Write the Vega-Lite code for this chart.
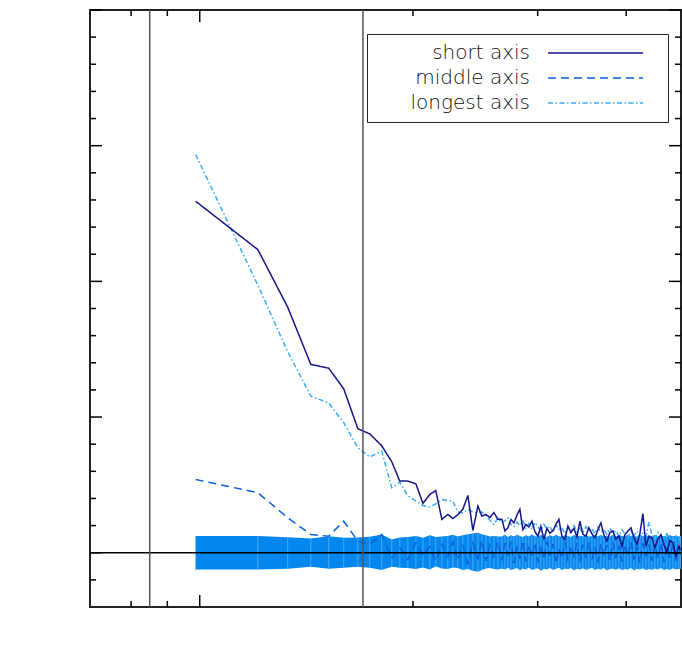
{
  "$schema": "https://vega.github.io/schema/vega-lite/v6.json",
  "width": 591,
  "height": 597,
  "autosize": {"type": "none"},
  "padding": {"left": 90, "top": 10, "right": 1, "bottom": 58},
  "background": "white",
  "config": {
    "font": "DejaVu Sans",
    "view": {"stroke": "#222", "strokeWidth": 2},
    "axis": {"grid": false, "domain": false, "ticks": false, "labelFont": "DejaVu Sans", "labelFontSize": 19, "labelFontWeight": 200, "labelColor": "#111", "titleFont": "DejaVu Sans", "titleFontSize": 18, "titleFontWeight": 200, "titleColor": "#111"},
    "legend": {
      "orient": "none", "legendX": 277, "legendY": 24, "title": null,
      "strokeColor": "#222", "padding": 9, "rowPadding": 5,
      "labelAlign": "right", "labelOffset": -28, "labelFont": "DejaVu Sans", "labelFontSize": 20, "labelFontWeight": 200, "labelColor": "#111", "labelLimit": 300,
      "symbolType": "M0,0H95M108,0", "symbolSize": 4, "symbolStrokeWidth": 1.5, "symbolOffset": 162
    }
  },
  "datasets": {
    "d": [
      {"R": 9.87, "short": 0.6295, "middle": 0.5270, "longest": 0.6467, "lo": 0.4938, "hi": 0.5062},
      {"R": 12.08, "short": 0.6117, "middle": 0.5221, "longest": 0.5986, "lo": 0.4938, "hi": 0.5062},
      {"R": 13.31, "short": 0.5905, "middle": 0.5129, "longest": 0.5741, "lo": 0.4941, "hi": 0.5057},
      {"R": 14.35, "short": 0.5694, "middle": 0.5067, "longest": 0.5577, "lo": 0.4948, "hi": 0.5052},
      {"R": 15.21, "short": 0.5680, "middle": 0.5061, "longest": 0.5552, "lo": 0.4941, "hi": 0.5061},
      {"R": 15.97, "short": 0.5604, "middle": 0.5116, "longest": 0.5479, "lo": 0.4945, "hi": 0.5055},
      {"R": 16.72, "short": 0.5457, "middle": 0.5043, "longest": 0.5387, "lo": 0.4948, "hi": 0.5056},
      {"R": 17.38, "short": 0.5438, "middle": 0.5031, "longest": 0.5353, "lo": 0.4945, "hi": 0.5059},
      {"R": 18.07, "short": 0.5394, "middle": 0.5067, "longest": 0.5374, "lo": 0.4936, "hi": 0.5067},
      {"R": 18.67, "short": 0.5335, "middle": 0.4982, "longest": 0.5239, "lo": 0.4948, "hi": 0.5049},
      {"R": 19.16, "short": 0.5264, "middle": 0.5018, "longest": 0.5260, "lo": 0.4945, "hi": 0.5056},
      {"R": 19.67, "short": 0.5264, "middle": 0.4975, "longest": 0.5210, "lo": 0.4944, "hi": 0.5058},
      {"R": 20.19, "short": 0.5254, "middle": 0.5037, "longest": 0.5190, "lo": 0.4940, "hi": 0.5062},
      {"R": 20.66, "short": 0.5182, "middle": 0.4990, "longest": 0.5174, "lo": 0.4946, "hi": 0.5055},
      {"R": 21.13, "short": 0.5215, "middle": 0.5022, "longest": 0.5169, "lo": 0.4938, "hi": 0.5064},
      {"R": 21.54, "short": 0.5229, "middle": 0.4968, "longest": 0.5180, "lo": 0.4950, "hi": 0.5058},
      {"R": 21.97, "short": 0.5123, "middle": 0.5030, "longest": 0.5196, "lo": 0.4942, "hi": 0.5060},
      {"R": 22.40, "short": 0.5141, "middle": 0.4985, "longest": 0.5192, "lo": 0.4940, "hi": 0.5062},
      {"R": 22.77, "short": 0.5126, "middle": 0.5040, "longest": 0.5190, "lo": 0.4946, "hi": 0.5066},
      {"R": 23.14, "short": 0.5140, "middle": 0.4972, "longest": 0.5150, "lo": 0.4944, "hi": 0.5060},
      {"R": 23.52, "short": 0.5160, "middle": 0.5025, "longest": 0.5147, "lo": 0.4936, "hi": 0.5064},
      {"R": 23.91, "short": 0.5211, "middle": 0.4960, "longest": 0.5160, "lo": 0.4940, "hi": 0.5068},
      {"R": 24.30, "short": 0.5082, "middle": 0.5035, "longest": 0.5150, "lo": 0.4934, "hi": 0.5071},
      {"R": 24.70, "short": 0.5172, "middle": 0.4978, "longest": 0.5147, "lo": 0.4930, "hi": 0.5074},
      {"R": 25.02, "short": 0.5135, "middle": 0.5045, "longest": 0.5150, "lo": 0.4936, "hi": 0.5068},
      {"R": 25.35, "short": 0.5141, "middle": 0.4970, "longest": 0.5138, "lo": 0.4942, "hi": 0.5064},
      {"R": 25.68, "short": 0.5130, "middle": 0.5028, "longest": 0.5120, "lo": 0.4944, "hi": 0.5060},
      {"R": 26.02, "short": 0.5148, "middle": 0.4985, "longest": 0.5104, "lo": 0.4940, "hi": 0.5062},
      {"R": 26.36, "short": 0.5123, "middle": 0.5040, "longest": 0.5128, "lo": 0.4938, "hi": 0.5060},
      {"R": 26.70, "short": 0.5123, "middle": 0.4972, "longest": 0.5110, "lo": 0.4942, "hi": 0.5060},
      {"R": 26.97, "short": 0.5080, "middle": 0.5035, "longest": 0.5118, "lo": 0.4938, "hi": 0.5066},
      {"R": 27.23, "short": 0.5092, "middle": 0.4990, "longest": 0.5129, "lo": 0.4945, "hi": 0.5058},
      {"R": 27.50, "short": 0.5123, "middle": 0.5040, "longest": 0.5105, "lo": 0.4936, "hi": 0.5064},
      {"R": 27.77, "short": 0.5110, "middle": 0.4962, "longest": 0.5095, "lo": 0.4940, "hi": 0.5060},
      {"R": 28.04, "short": 0.5138, "middle": 0.5022, "longest": 0.5112, "lo": 0.4944, "hi": 0.5066},
      {"R": 28.31, "short": 0.5160, "middle": 0.4978, "longest": 0.5100, "lo": 0.4935, "hi": 0.5062},
      {"R": 28.59, "short": 0.5085, "middle": 0.5045, "longest": 0.5118, "lo": 0.4942, "hi": 0.5058},
      {"R": 28.87, "short": 0.5104, "middle": 0.4968, "longest": 0.5090, "lo": 0.4938, "hi": 0.5064},
      {"R": 29.15, "short": 0.5095, "middle": 0.5030, "longest": 0.5108, "lo": 0.4946, "hi": 0.5060},
      {"R": 29.44, "short": 0.5116, "middle": 0.4985, "longest": 0.5085, "lo": 0.4936, "hi": 0.5067},
      {"R": 29.73, "short": 0.5078, "middle": 0.5038, "longest": 0.5112, "lo": 0.4940, "hi": 0.5061},
      {"R": 30.02, "short": 0.5061, "middle": 0.4965, "longest": 0.5095, "lo": 0.4943, "hi": 0.5059},
      {"R": 30.31, "short": 0.5098, "middle": 0.5028, "longest": 0.5080, "lo": 0.4934, "hi": 0.5065},
      {"R": 30.61, "short": 0.5049, "middle": 0.4975, "longest": 0.5105, "lo": 0.4941, "hi": 0.5062},
      {"R": 30.91, "short": 0.5090, "middle": 0.5042, "longest": 0.5088, "lo": 0.4938, "hi": 0.5058},
      {"R": 31.21, "short": 0.5072, "middle": 0.4990, "longest": 0.5098, "lo": 0.4944, "hi": 0.5064},
      {"R": 31.52, "short": 0.5080, "middle": 0.5032, "longest": 0.5075, "lo": 0.4937, "hi": 0.5060},
      {"R": 31.83, "short": 0.5105, "middle": 0.4960, "longest": 0.5102, "lo": 0.4940, "hi": 0.5066},
      {"R": 32.14, "short": 0.5123, "middle": 0.5015, "longest": 0.5085, "lo": 0.4945, "hi": 0.5061},
      {"R": 32.46, "short": 0.5060, "middle": 0.4978, "longest": 0.5092, "lo": 0.4936, "hi": 0.5059},
      {"R": 32.77, "short": 0.5049, "middle": 0.5040, "longest": 0.5070, "lo": 0.4942, "hi": 0.5064},
      {"R": 33.10, "short": 0.5098, "middle": 0.4970, "longest": 0.5095, "lo": 0.4939, "hi": 0.5062},
      {"R": 33.42, "short": 0.5074, "middle": 0.5025, "longest": 0.5082, "lo": 0.4944, "hi": 0.5058},
      {"R": 33.75, "short": 0.5090, "middle": 0.4988, "longest": 0.5100, "lo": 0.4935, "hi": 0.5065},
      {"R": 34.08, "short": 0.5058, "middle": 0.5036, "longest": 0.5078, "lo": 0.4941, "hi": 0.5061},
      {"R": 34.41, "short": 0.5116, "middle": 0.4966, "longest": 0.5090, "lo": 0.4938, "hi": 0.5063},
      {"R": 34.75, "short": 0.5068, "middle": 0.5030, "longest": 0.5072, "lo": 0.4943, "hi": 0.5060},
      {"R": 35.09, "short": 0.5061, "middle": 0.4982, "longest": 0.5096, "lo": 0.4937, "hi": 0.5066},
      {"R": 35.43, "short": 0.5092, "middle": 0.5040, "longest": 0.5080, "lo": 0.4940, "hi": 0.5059},
      {"R": 35.78, "short": 0.5070, "middle": 0.4975, "longest": 0.5088, "lo": 0.4945, "hi": 0.5062},
      {"R": 36.13, "short": 0.5055, "middle": 0.5020, "longest": 0.5070, "lo": 0.4936, "hi": 0.5064},
      {"R": 36.49, "short": 0.5085, "middle": 0.4965, "longest": 0.5094, "lo": 0.4941, "hi": 0.5060},
      {"R": 36.84, "short": 0.5110, "middle": 0.5035, "longest": 0.5076, "lo": 0.4938, "hi": 0.5065},
      {"R": 37.20, "short": 0.5066, "middle": 0.4990, "longest": 0.5085, "lo": 0.4944, "hi": 0.5061},
      {"R": 37.57, "short": 0.5043, "middle": 0.5028, "longest": 0.5068, "lo": 0.4935, "hi": 0.5063},
      {"R": 37.94, "short": 0.5075, "middle": 0.4972, "longest": 0.5090, "lo": 0.4940, "hi": 0.5059},
      {"R": 38.31, "short": 0.5080, "middle": 0.5038, "longest": 0.5072, "lo": 0.4942, "hi": 0.5066},
      {"R": 38.68, "short": 0.5050, "middle": 0.4980, "longest": 0.5082, "lo": 0.4937, "hi": 0.5060},
      {"R": 39.06, "short": 0.5062, "middle": 0.5025, "longest": 0.5060, "lo": 0.4943, "hi": 0.5064},
      {"R": 39.45, "short": 0.5024, "middle": 0.4968, "longest": 0.5085, "lo": 0.4936, "hi": 0.5062},
      {"R": 39.83, "short": 0.5067, "middle": 0.5032, "longest": 0.5070, "lo": 0.4940, "hi": 0.5060},
      {"R": 40.22, "short": 0.5080, "middle": 0.4985, "longest": 0.5052, "lo": 0.4938, "hi": 0.5065},
      {"R": 40.62, "short": 0.5092, "middle": 0.5040, "longest": 0.5078, "lo": 0.4944, "hi": 0.5061},
      {"R": 41.02, "short": 0.5055, "middle": 0.4975, "longest": 0.5062, "lo": 0.4935, "hi": 0.5063},
      {"R": 41.42, "short": 0.5031, "middle": 0.5022, "longest": 0.5080, "lo": 0.4941, "hi": 0.5059},
      {"R": 41.82, "short": 0.5070, "middle": 0.4962, "longest": 0.5055, "lo": 0.4938, "hi": 0.5066},
      {"R": 42.23, "short": 0.5144, "middle": 0.5035, "longest": 0.5072, "lo": 0.4943, "hi": 0.5062},
      {"R": 42.65, "short": 0.5024, "middle": 0.4988, "longest": 0.5060, "lo": 0.4936, "hi": 0.5060},
      {"R": 43.07, "short": 0.5060, "middle": 0.5030, "longest": 0.5113, "lo": 0.4940, "hi": 0.5064},
      {"R": 43.49, "short": 0.5055, "middle": 0.4970, "longest": 0.5065, "lo": 0.4937, "hi": 0.5061},
      {"R": 43.91, "short": 0.5018, "middle": 0.5028, "longest": 0.5050, "lo": 0.4942, "hi": 0.5065},
      {"R": 44.35, "short": 0.5050, "middle": 0.4978, "longest": 0.5075, "lo": 0.4938, "hi": 0.5060},
      {"R": 44.78, "short": 0.5067, "middle": 0.5036, "longest": 0.5058, "lo": 0.4944, "hi": 0.5063},
      {"R": 45.22, "short": 0.5030, "middle": 0.4965, "longest": 0.5045, "lo": 0.4936, "hi": 0.5062},
      {"R": 45.66, "short": 0.5000, "middle": 0.5025, "longest": 0.5070, "lo": 0.4940, "hi": 0.5060},
      {"R": 46.11, "short": 0.5045, "middle": 0.4982, "longest": 0.5052, "lo": 0.4937, "hi": 0.5064},
      {"R": 46.56, "short": 0.5037, "middle": 0.5032, "longest": 0.5040, "lo": 0.4943, "hi": 0.5061},
      {"R": 47.02, "short": 0.4988, "middle": 0.4970, "longest": 0.5062, "lo": 0.4938, "hi": 0.5063},
      {"R": 47.48, "short": 0.5024, "middle": 0.5020, "longest": 0.5048, "lo": 0.4941, "hi": 0.5060},
      {"R": 47.75, "short": 0.5011, "middle": 0.4990, "longest": 0.5055, "lo": 0.4940, "hi": 0.5062}
    ],
    "vlines": [{"R": 8.5}, {"R": 17}],
    "hline": [{"v": 0.5}],
    "xmajor": [{"R": 10}],
    "xminor": [{"R": 8}, {"R": 9}, {"R": 20}, {"R": 30}, {"R": 40}],
    "ymajor": [{"v": 0.5}, {"v": 0.55}, {"v": 0.6}, {"v": 0.65}, {"v": 0.7}],
    "yminor": [{"v": 0.49}, {"v": 0.51}, {"v": 0.52}, {"v": 0.53}, {"v": 0.54}, {"v": 0.56}, {"v": 0.57}, {"v": 0.58}, {"v": 0.59}, {"v": 0.61}, {"v": 0.62}, {"v": 0.63}, {"v": 0.64}, {"v": 0.66}, {"v": 0.67}, {"v": 0.68}, {"v": 0.69}]
  },
  "layer": [
    {
      "data": {"name": "d"},
      "mark": {"type": "area", "color": "#0387ee", "opacity": 1},
      "encoding": {
        "x": {"field": "R", "type": "quantitative", "scale": {"type": "log", "domain": [7, 47.8], "nice": false},
              "axis": {"orient": "bottom", "values": [10], "format": "d", "labelPadding": 16, "title": "R [Mpc h⁻¹]", "titlePadding": 6}},
        "y": {"field": "lo", "type": "quantitative", "scale": {"domain": [0.48, 0.70], "nice": false, "zero": false},
              "axis": {"orient": "left", "values": [0.5, 0.55, 0.6, 0.65, 0.7], "format": ".2f", "labelPadding": 8, "title": "<cos(θ)>", "titlePadding": 15}},
        "y2": {"field": "hi"}
      }
    },
    {
      "data": {"name": "d"},
      "mark": {"type": "rule", "color": "#5cb1f6", "strokeWidth": 1, "opacity": 0.8},
      "encoding": {
        "x": {"field": "R", "type": "quantitative", "axis": null},
        "y": {"field": "lo", "type": "quantitative", "axis": null},
        "y2": {"field": "hi"}
      }
    },
    {
      "data": {"name": "d"},
      "transform": [{"fold": ["longest", "middle", "short"], "as": ["axis", "cos"]}],
      "mark": {"type": "line", "strokeWidth": 1.5},
      "encoding": {
        "x": {"field": "R", "type": "quantitative", "axis": null},
        "y": {"field": "cos", "type": "quantitative", "axis": null},
        "color": {"field": "axis", "type": "nominal", "scale": {"domain": ["short", "middle", "longest"], "range": ["#15158a", "#0b5fdc", "#38acf8"]}, "legend": {"title": null, "labelExpr": "datum.label + ' axis'"}},
        "strokeDash": {"field": "axis", "type": "nominal", "scale": {"domain": ["short", "middle", "longest"], "range": [[1, 0], [8, 5], [5, 2.5, 1.5, 2.5]]}, "legend": {"title": null, "labelExpr": "datum.label + ' axis'"}}
      }
    },
    {
      "data": {"name": "hline"},
      "mark": {"type": "rule", "color": "#000", "strokeWidth": 1.5},
      "encoding": {"y": {"field": "v", "type": "quantitative", "axis": null}}
    },
    {
      "data": {"name": "vlines"},
      "mark": {"type": "rule", "color": "#555", "strokeWidth": 1.5},
      "encoding": {"x": {"field": "R", "type": "quantitative", "axis": null}}
    },
    {
      "data": {"name": "xmajor"},
      "mark": {"type": "tick", "orient": "vertical", "size": 12, "thickness": 1.5, "color": "#000", "opacity": 1, "yOffset": -6},
      "encoding": {"x": {"field": "R", "type": "quantitative", "axis": null}, "y": {"datum": 0.48, "type": "quantitative", "axis": null}}
    },
    {
      "data": {"name": "xminor"},
      "mark": {"type": "tick", "orient": "vertical", "size": 6, "thickness": 1.5, "color": "#000", "opacity": 1, "yOffset": -3},
      "encoding": {"x": {"field": "R", "type": "quantitative", "axis": null}, "y": {"datum": 0.48, "type": "quantitative", "axis": null}}
    },
    {
      "data": {"name": "xmajor"},
      "mark": {"type": "tick", "orient": "vertical", "size": 12, "thickness": 1.5, "color": "#000", "opacity": 1, "yOffset": 6},
      "encoding": {"x": {"field": "R", "type": "quantitative", "axis": null}, "y": {"datum": 0.70, "type": "quantitative", "axis": null}}
    },
    {
      "data": {"name": "xminor"},
      "mark": {"type": "tick", "orient": "vertical", "size": 6, "thickness": 1.5, "color": "#000", "opacity": 1, "yOffset": 3},
      "encoding": {"x": {"field": "R", "type": "quantitative", "axis": null}, "y": {"datum": 0.70, "type": "quantitative", "axis": null}}
    },
    {
      "data": {"name": "ymajor"},
      "mark": {"type": "tick", "orient": "horizontal", "size": 12, "thickness": 1.5, "color": "#000", "opacity": 1, "xOffset": 6},
      "encoding": {"y": {"field": "v", "type": "quantitative", "axis": null}, "x": {"datum": 7, "type": "quantitative", "axis": null}}
    },
    {
      "data": {"name": "yminor"},
      "mark": {"type": "tick", "orient": "horizontal", "size": 6, "thickness": 1.5, "color": "#000", "opacity": 1, "xOffset": 3},
      "encoding": {"y": {"field": "v", "type": "quantitative", "axis": null}, "x": {"datum": 7, "type": "quantitative", "axis": null}}
    },
    {
      "data": {"name": "ymajor"},
      "mark": {"type": "tick", "orient": "horizontal", "size": 12, "thickness": 1.5, "color": "#000", "opacity": 1, "xOffset": -6},
      "encoding": {"y": {"field": "v", "type": "quantitative", "axis": null}, "x": {"datum": 47.8, "type": "quantitative", "axis": null}}
    },
    {
      "data": {"name": "yminor"},
      "mark": {"type": "tick", "orient": "horizontal", "size": 6, "thickness": 1.5, "color": "#000", "opacity": 1, "xOffset": -3},
      "encoding": {"y": {"field": "v", "type": "quantitative", "axis": null}, "x": {"datum": 47.8, "type": "quantitative", "axis": null}}
    }
  ]
}
